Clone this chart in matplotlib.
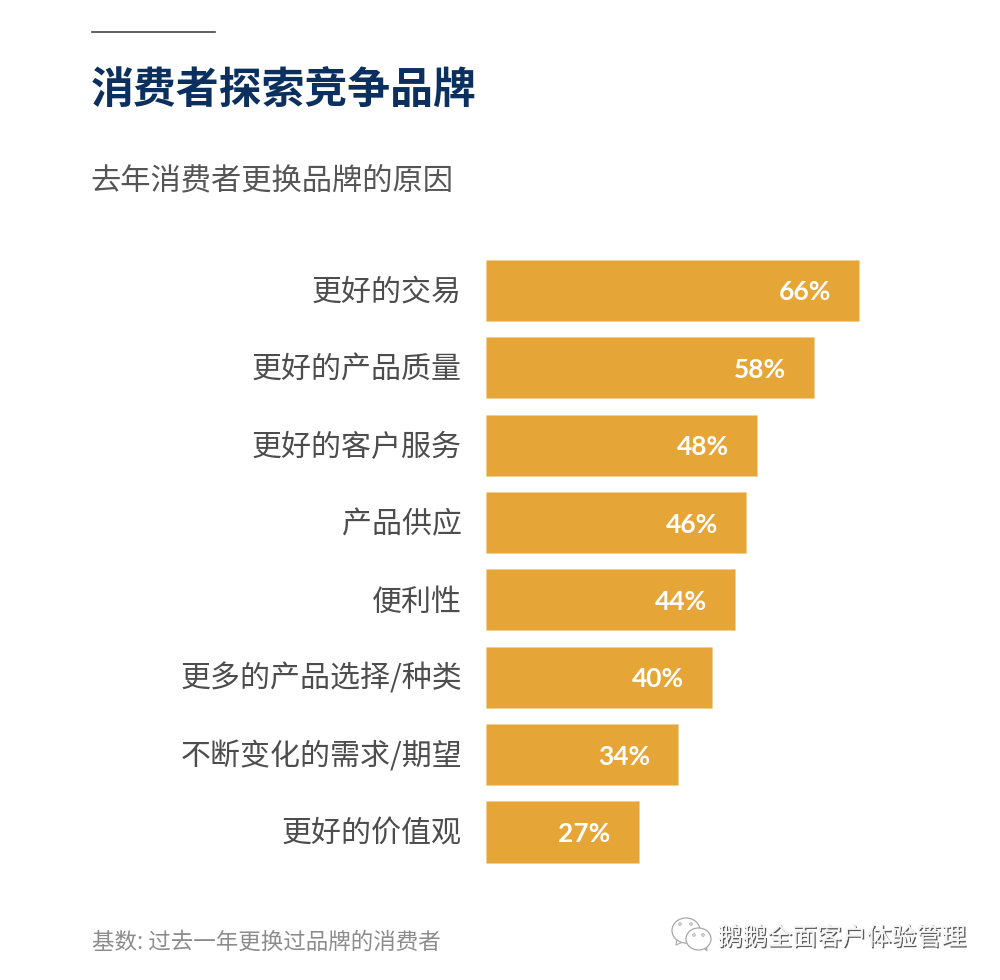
import matplotlib
matplotlib.use('Agg')
import matplotlib.pyplot as plt
import matplotlib.patheffects as pe
from matplotlib.patches import Ellipse, Polygon

plt.rcParams['font.family'] = ['Noto Sans CJK SC', 'DejaVu Sans']

categories = ['更好的交易', '更好的产品质量', '更好的客户服务', '产品供应', '便利性',
              '更多的产品选择/种类', '不断变化的需求/期望', '更好的价值观']
values = [66, 58, 48, 46, 44, 40, 34, 27]
title = '消费者探索竞争品牌'
subtitle = '去年消费者更换品牌的原因'
footnote = '基数: 过去一年更换过品牌的消费者'
watermark = '鹅鹅全面客户体验管理'

W, H = 1000, 980
fig = plt.figure(figsize=(W / 100, H / 100), dpi=100, facecolor='white')

# bar axes: x = 0 at px 486, 66 at px 859; eight rows of 77.36 px from px 251.8
ax = fig.add_axes([486 / W, 1 - 870.7 / H, 400 / W, (870.7 - 251.8) / H])
ax.set_xlim(0, 400 / (373 / 66))
ax.set_ylim(7.5, -0.5)
ypos = list(range(len(values)))
ax.barh(ypos, values, height=0.79, color='#E6A537', edgecolor='#F2CD8A', linewidth=0.4)
ax.axis('off')

for y, v, c in zip(ypos, values, categories):
    ax.annotate(f'{v}%', xy=(v, y), xytext=(-28, -2), textcoords='offset pixels',
                color='white', fontsize=19, fontweight='bold',
                ha='right', va='center', family=['Lato', 'DejaVu Sans'])
    ax.annotate(c, xy=(0, y), xytext=(-24, -2), textcoords='offset pixels', ha='right', va='center',
                fontsize=21.6, color='#4D4D4D')

fig.text(91 / W, 1 - 91 / H, title, fontsize=30.9, fontweight='black', color='#0B2F5E', va='center')
fig.text(90.5 / W, 1 - 181 / H, subtitle, fontsize=21.8, color='#555555', va='center')
fig.text(91.5 / W, 1 - 942.5 / H, footnote, fontsize=16.2, color='#8C8C8C', va='center')
shadow = [pe.withSimplePatchShadow(offset=(1, -1), shadow_rgbFace='#5A5A5A', alpha=1), pe.Normal()]
fig.text(717.5 / W, 1 - 938 / H, watermark, fontsize=17.9, color='#F4F4F4', va='center', path_effects=shadow)
fig.add_artist(plt.Line2D([92 / W, 215 / W], [1 - 32 / H, 1 - 32 / H], color='#444444', lw=1.2))

# WeChat-style logo in pixel coordinates
logo = fig.add_axes([0, 0, 1, 1], facecolor='none')
logo.set_xlim(0, W)
logo.set_ylim(H, 0)
logo.axis('off')
edge = '#A8A8A8'
logo.add_patch(Polygon([(677, 938), (676, 945), (685, 941)], fc='white', ec=edge, lw=0.8))
logo.add_patch(Ellipse((686, 930.5), 28, 25, fc='white', ec=edge, lw=0.9))
logo.add_patch(Polygon([(702, 946), (707, 951), (706, 943)], fc='white', ec=edge, lw=0.8))
logo.add_patch(Ellipse((698.5, 939), 25, 22, fc='white', ec=edge, lw=0.9))
logo.add_patch(Ellipse((680, 924), 2.5, 2.5, fc='white', ec=edge, lw=0.7))
logo.add_patch(Ellipse((691, 924), 2.5, 2.5, fc='white', ec=edge, lw=0.7))
logo.add_patch(Ellipse((694, 935), 2.5, 2.5, fc='white', ec=edge, lw=0.7))
logo.add_patch(Ellipse((703, 935), 2.5, 2.5, fc='white', ec=edge, lw=0.7))

fig.savefig('out.png', dpi=100, facecolor='white')
